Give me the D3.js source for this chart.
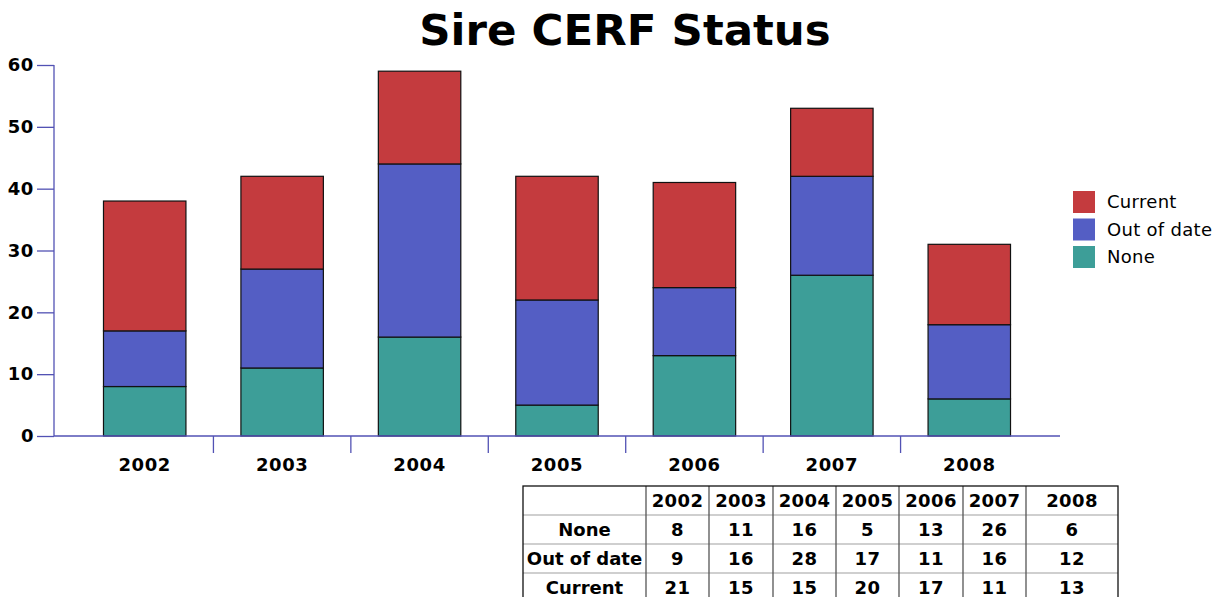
<!DOCTYPE html>
<html>
<head>
<meta charset="utf-8">
<script src="https://cdn.jsdelivr.net/npm/d3@7"></script>
<style>
  body { margin: 0; background: #fff; }
  svg { font-family: "DejaVu Sans", Verdana, sans-serif; }
</style>
</head>
<body>
<svg id="chart" width="1220" height="597"></svg>
<script>
// donnees du graphique
const years = ["2002", "2003", "2004", "2005", "2006", "2007", "2008"];
const none = [8, 11, 16, 5, 13, 26, 6];
const outOfDate = [9, 16, 28, 17, 11, 16, 12];
const current = [21, 15, 15, 20, 17, 11, 13];
const seriesNames = ["None", "Out of date", "Current"];
const seriesColors = ["#3d9e98", "#545ec4", "#c43b3e"];
const yTicks = [0, 10, 20, 30, 40, 50, 60];

const svg = d3.select("#chart");
const axisColor = "#5252b4";

// titre
svg.append("text").attr("x", 625).attr("y", 45).attr("text-anchor", "middle")
  .attr("font-size", 43.5).attr("font-weight", "bold").text("Sire CERF Status");

// echelles
const x = d3.scaleBand().domain(years).range([76, 1038]).paddingInner(0.4).paddingOuter(0.2);
const y = d3.scaleLinear().domain([0, 60]).range([436, 65]);

// empilement
const rows = years.map((yr, i) => ({ year: yr, None: none[i], "Out of date": outOfDate[i], Current: current[i] }));
const stack = d3.stack().keys(seriesNames)(rows);

stack.forEach((layer, k) => {
  svg.append("g").selectAll("rect").data(layer).join("rect")
    .attr("x", d => x(d.data.year))
    .attr("y", d => y(d[1]))
    .attr("width", x.bandwidth())
    .attr("height", d => y(d[0]) - y(d[1]))
    .attr("fill", seriesColors[k])
    .attr("stroke", "#111").attr("stroke-width", 1.2);
});

// axe Y
const yAxis = svg.append("g").attr("transform", "translate(54,0)")
  .call(d3.axisLeft(y).tickValues(yTicks).tickSize(17).tickPadding(3));
yAxis.select(".domain").attr("stroke", axisColor).attr("stroke-width", 1.3)
  .attr("d", "M0," + y(60) + "V" + y(0));
yAxis.selectAll(".tick line").attr("stroke", axisColor).attr("stroke-width", 1.3);
yAxis.selectAll("text").attr("font-size", 18).attr("font-weight", "bold")
  .attr("letter-spacing", 0.6)
  .attr("font-family", "DejaVu Sans, Verdana, sans-serif").attr("fill", "#000");

// axe X
svg.append("line").attr("x1", 54).attr("x2", 1060).attr("y1", y(0)).attr("y2", y(0))
  .attr("stroke", axisColor).attr("stroke-width", 1.3);
const step = x.step();
svg.append("g").selectAll("line").data(years.slice(1)).join("line")
  .attr("x1", d => x(d) - step * x.paddingInner() / 2)
  .attr("x2", d => x(d) - step * x.paddingInner() / 2)
  .attr("y1", y(0)).attr("y2", y(0) + 17)
  .attr("stroke", axisColor).attr("stroke-width", 1.3);
svg.append("g").selectAll("text").data(years).join("text")
  .attr("x", d => x(d) + x.bandwidth() / 2).attr("y", 471)
  .attr("text-anchor", "middle").attr("font-size", 18).attr("font-weight", "bold")
  .attr("letter-spacing", 0.6)
  .text(d => d);

// legende
const legendOrder = [2, 1, 0];
const legend = svg.append("g").selectAll("g").data(legendOrder).join("g")
  .attr("transform", (d, i) => "translate(1073," + (191 + i * 27.5) + ")");
legend.append("rect").attr("width", 22).attr("height", 22).attr("fill", d => seriesColors[d]);
legend.append("text").attr("x", 34).attr("y", 17).attr("font-size", 18)
  .attr("letter-spacing", 0.3).text(d => seriesNames[d]);

// tableau de donnees
const colX = [523, 646, 709, 773, 836, 899, 963, 1026, 1118];
const rowY = [486, 515, 544, 573, 602];
const tableRows = [["None"].concat(none), ["Out of date"].concat(outOfDate), ["Current"].concat(current)];
const table = svg.append("g");

// lignes horizontales claires
table.selectAll("line.h").data(rowY.slice(1, 4)).join("line")
  .attr("x1", colX[0]).attr("x2", colX[8]).attr("y1", d => d).attr("y2", d => d)
  .attr("stroke", "#cfcfcf").attr("stroke-width", 2);
// lignes verticales
table.selectAll("line.v").data(colX.slice(1, 8)).join("line")
  .attr("x1", d => d).attr("x2", d => d).attr("y1", rowY[0]).attr("y2", rowY[4])
  .attr("stroke", "#555").attr("stroke-width", 1.3);
// bordure
table.append("rect").attr("x", colX[0]).attr("y", rowY[0])
  .attr("width", colX[8] - colX[0]).attr("height", rowY[4] - rowY[0])
  .attr("fill", "none").attr("stroke", "#111").attr("stroke-width", 1.3);

// en-tete
table.selectAll("text.hd").data(years).join("text")
  .attr("x", (d, i) => (colX[i + 1] + colX[i + 2]) / 2).attr("y", rowY[0] + 21)
  .attr("text-anchor", "middle").attr("font-size", 18).attr("font-weight", "bold")
  .attr("letter-spacing", 0.4).text(d => d);
// cellules (la premiere colonne sans espacement)
tableRows.forEach((r, ri) => {
  table.append("g").selectAll("text").data(r).join("text")
    .attr("x", (d, i) => (colX[i] + colX[i + 1]) / 2).attr("y", rowY[ri + 1] + 21)
    .attr("text-anchor", "middle").attr("font-size", 18).attr("font-weight", "bold")
    .attr("letter-spacing", (d, i) => i === 0 ? 0 : 0.4).text(d => d);
});
</script>
</body>
</html>
